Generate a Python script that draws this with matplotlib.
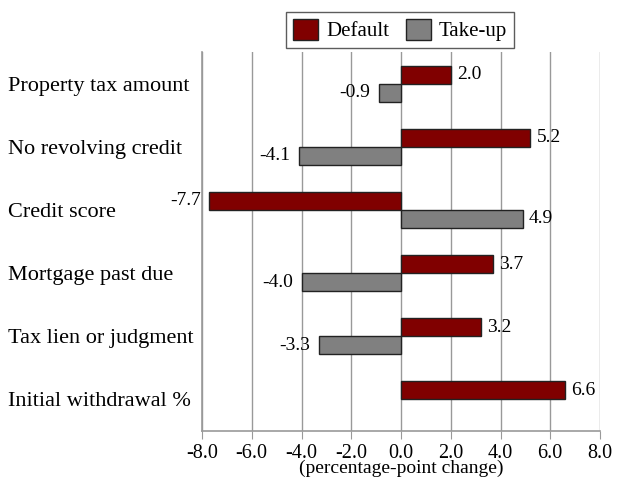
import matplotlib.pyplot as plt
import numpy as np

categories = ['Property tax amount', 'No revolving credit', 'Credit score',
              'Mortgage past due', 'Tax lien or judgment', 'Initial withdrawal %']
default = [2.0, 5.2, -7.7, 3.7, 3.2, 6.6]
takeup = [-0.9, -4.1, 4.9, -4.0, -3.3, None]

plt.rcParams['font.family'] = ['Liberation Serif', 'DejaVu Serif']

fig = plt.figure(figsize=(6.17, 4.83), dpi=100)
ax = fig.add_axes([202 / 617, 1 - 431 / 483, 398 / 617, 379 / 483])

y = np.arange(len(categories))
h = 0.285
ax.barh(y - h / 2, default, height=h, color='#800000', edgecolor='#222222', linewidth=1, label='Default', zorder=3)
tk = [v if v is not None else 0 for v in takeup]
bars_t = ax.barh(y + h / 2, tk, height=h, color='#808080', edgecolor='#222222', linewidth=1, label='Take-up', zorder=3)
for i, v in enumerate(takeup):
    if v is None:
        bars_t[i].set_visible(False)

def lab(val, yy):
    if val >= 0:
        ax.text(val + 0.25, yy, f'{val:.1f}', ha='left', va='center', fontsize=14)
    else:
        ax.text(val - 0.35, yy, f'{val:.1f}', ha='right', va='center', fontsize=14)

for i in range(len(categories)):
    lab(default[i], y[i] - h / 2)
    if takeup[i] is not None:
        lab(takeup[i], y[i] + h / 2)

ax.set_xlim(-8, 8)
ax.set_ylim(len(categories) - 0.5, -0.5)
ax.set_xticks(np.arange(-8, 8.1, 2))
ax.set_xticklabels([f'{v:.1f}' for v in np.arange(-8, 8.1, 2)], fontsize=14.5)
ax.set_yticks(y)
ax.set_yticklabels(categories, fontsize=16, ha='left')
ax.tick_params(axis='y', length=0, pad=194 * 72 / 100)
ax.tick_params(axis='x', length=6, color='#999999', direction='out', pad=3)
ax.xaxis.grid(True, color='#999999', linewidth=1, zorder=0)
for s in ['top', 'right']:
    ax.spines[s].set_visible(False)
for s in ['left', 'bottom']:
    ax.spines[s].set_color('#999999')
    ax.spines[s].set_linewidth(1.2)

ax.set_xlabel('(percentage-point change)', fontsize=14, labelpad=-2)

fig.legend(loc='center', bbox_to_anchor=(400 / 617, 1 - 30 / 483), ncol=2, fontsize=15,
           frameon=True, fancybox=False, edgecolor='#333333', handlelength=1.2, handleheight=1.2,
           columnspacing=0.8, handletextpad=0.4, borderpad=0.3)

fig.savefig('out.png', dpi=100)
